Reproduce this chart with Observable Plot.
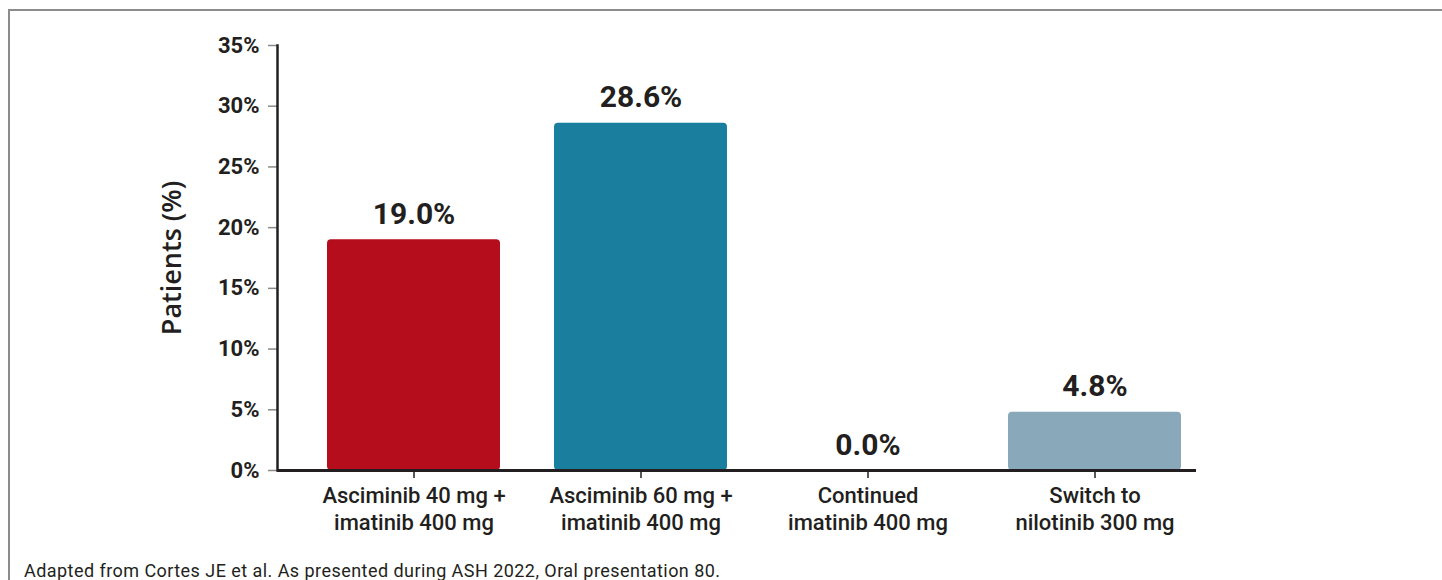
<!DOCTYPE html>
<html>
<head>
<meta charset="utf-8">
<script src="https://cdn.jsdelivr.net/npm/d3@7"></script>
<script src="https://cdn.jsdelivr.net/npm/@observablehq/plot@0.6"></script>
<style>
  html, body { margin: 0; padding: 0; background: #fff; }
  #wrap { position: relative; width: 1442px; height: 580px; overflow: hidden; font-family: Roboto, sans-serif; }
  #border { position: absolute; left: 8px; top: 9px; width: 1450px; height: 600px;
            border-top: 2px solid #8c8c8c; border-left: 2px solid #8c8c8c; box-sizing: border-box; }
  #chart { position: absolute; left: 0; top: 0; }
  #footer { position: absolute; left: 24px; top: 560px; font-size: 18px; letter-spacing: 0.45px; color: #231f20; font-family: Roboto, sans-serif; white-space: nowrap; }
</style>
</head>
<body>
<div id="wrap">
  <div id="border"></div>
  <div id="chart"></div>
  <div id="footer">Adapted from Cortes JE et al. As presented during ASH 2022, Oral presentation 80.</div>
</div>
<script>
const categories = [
  "Asciminib 40 mg +\nimatinib 400 mg",
  "Asciminib 60 mg +\nimatinib 400 mg",
  "Continued\nimatinib 400 mg",
  "Switch to\nnilotinib 300 mg"
];
const values = [19.0, 28.6, 0.0, 4.8];
const valueLabels = ["19.0%", "28.6%", "0.0%", "4.8%"];
const colors = ["#b50d1b", "#1a7f9e", "#1a7f9e", "#89a9ba"];
const yTicks = [0, 5, 10, 15, 20, 25, 30, 35];
const yLabel = "Patients (%)";

const data = categories.map((c, i) => ({cat: c, value: values[i], label: valueLabels[i], color: colors[i]}));
const dark = "#231f20";

const chart = Plot.plot({
  width: 1442,
  height: 540,
  marginLeft: 277,
  marginRight: 246,
  marginTop: 45,
  marginBottom: 70,
  style: {fontFamily: "Roboto, sans-serif", background: "transparent", overflow: "visible"},
  x: {domain: categories, paddingInner: 0.24, paddingOuter: 0.138, align: 0.76, axis: null},
  y: {domain: [0, 35], axis: null},
  marks: [
    Plot.barY(data, {x: "cat", y: "value", fill: "color", rx: 4}),
    // y axis ticks + labels
    Plot.axisY({ticks: yTicks, tickSize: 9, tickPadding: 9, tickFormat: d => d + "%", stroke: "#8a8a8a", fill: dark,
                fontSize: 22, fontWeight: 700, label: null, strokeWidth: 1.5}),
    Plot.frame({anchor: "left", stroke: dark, strokeWidth: 2.5}),
    // x axis
    Plot.axisX({tickSize: 8, tickPadding: 6, stroke: dark, fill: dark, fontSize: 22, fontWeight: 500,
                lineHeight: 1.2, label: null, strokeWidth: 1.5}),
    Plot.ruleY([0], {stroke: dark, strokeWidth: 3}),
    // value labels
    Plot.text(data, {x: "cat", y: "value", text: "label", dy: -16, lineAnchor: "bottom",
                     fontSize: 30, fontWeight: 700, fill: dark}),
    // y label
    Plot.text([yLabel], {frameAnchor: "left", rotate: -90, dx: -105, textAnchor: "middle", lineAnchor: "middle",
                         fontSize: 27, fontWeight: 600, fill: dark, fontFamily: "'Open Sans', sans-serif"})
  ]
});
document.getElementById("chart").appendChild(chart);
</script>
</body>
</html>
